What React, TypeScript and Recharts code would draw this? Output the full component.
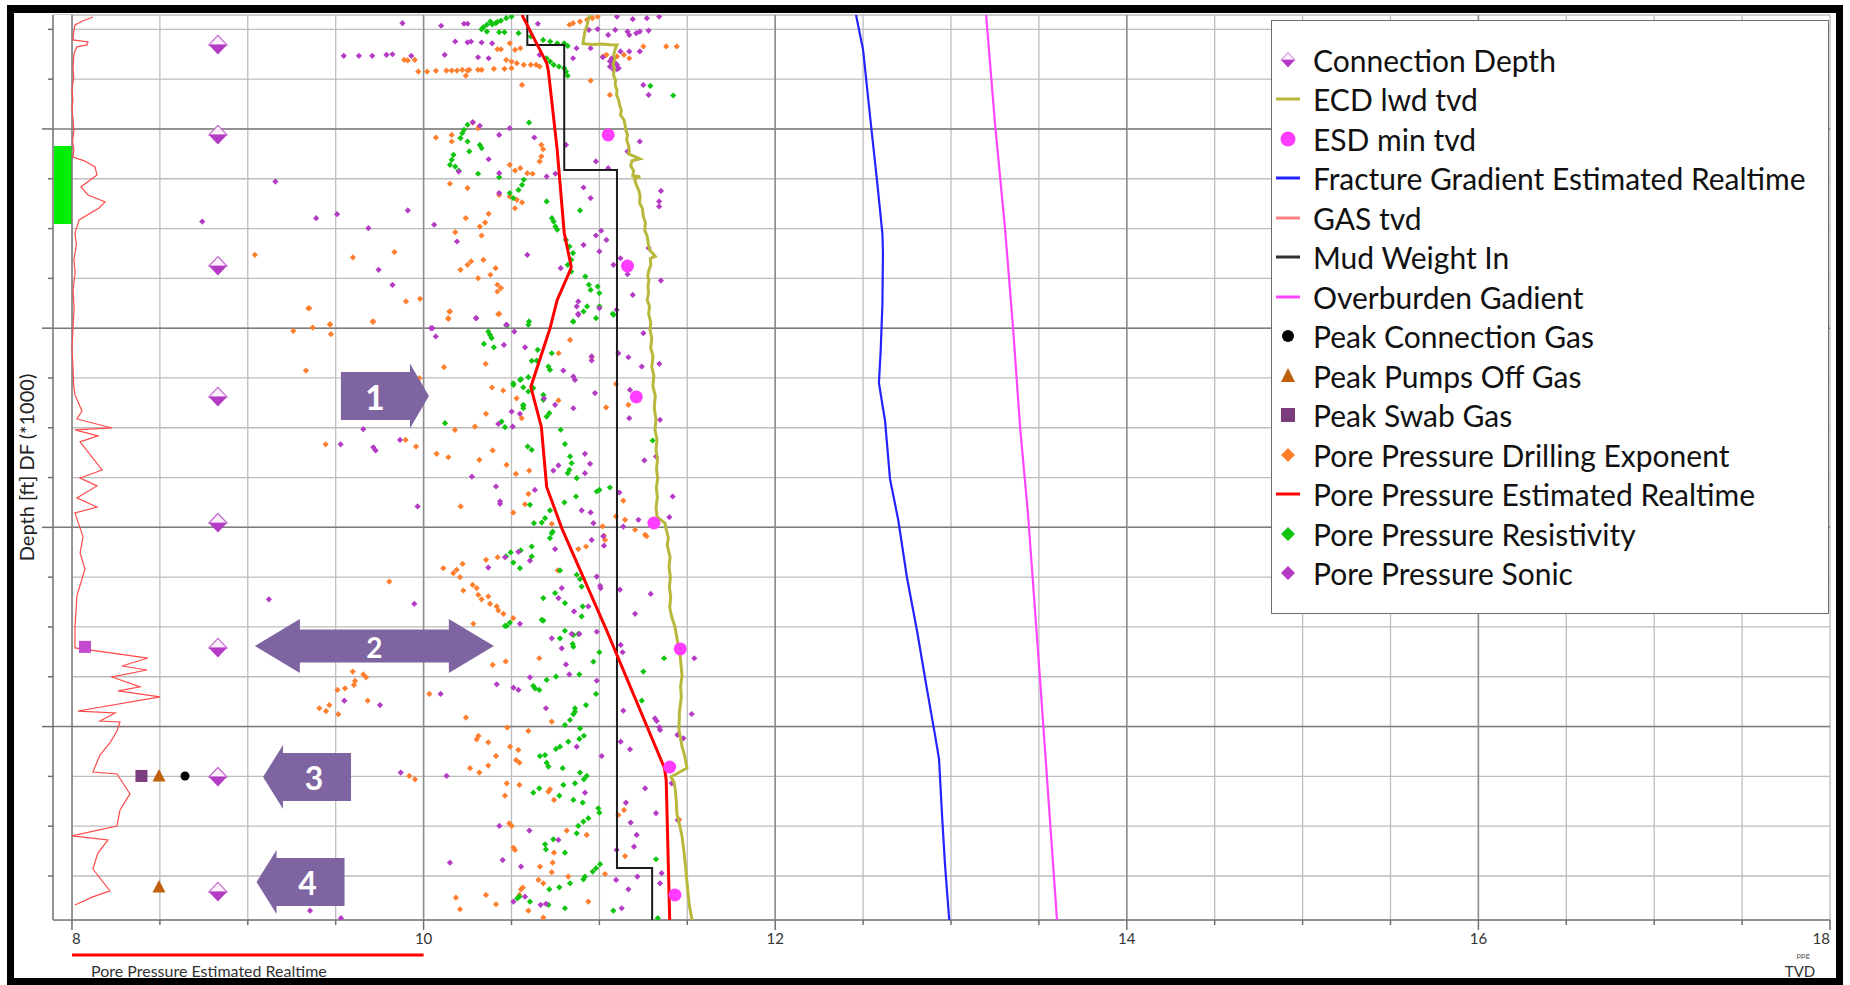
import React from 'react';
import {
  ComposedChart,
  Scatter,
  XAxis,
  YAxis,
  CartesianGrid,
  ReferenceArea,
  ReferenceLine,
  ReferenceDot,
  Legend,
} from 'recharts';

const FONT = 'Lato, "Open Sans", sans-serif';

// axes
const X_MIN = 7.892;
const X_MAX = 18;
const DEPTH_MIN = 9428;
const DEPTH_MAX = 13971;
const X_TICKS = [8, 8.5, 9, 9.5, 10, 10.5, 11, 11.5, 12, 12.5, 13, 13.5, 14, 14.5, 15, 15.5, 16, 16.5, 17, 17.5, 18];
const X_LABELS = [8, 10, 12, 14, 16, 18];
const DEPTH_TICKS = [9500, 9750, 10000, 10250, 10500, 10750, 11000, 11250, 11500, 11750, 12000, 12250, 12500, 12750, 13000, 13250, 13500, 13750];
const DEPTH_MAJORS = [10000, 11000, 12000, 13000];
const X_MAJORS = [10, 12, 14, 16];
const GREEN_ZONE = [10085, 10477];

// curves: [ppg, depth]
const PP_EST = [
  [10.56, 9428], [10.7, 9669], [10.71, 9710], [10.76, 10105], [10.8, 10522], [10.84, 10693], [10.83, 10718],
  [10.76, 10858], [10.72, 10999], [10.61, 11295], [10.67, 11496], [10.7, 11797], [10.79, 12013], [11.04, 12515],
  [11.37, 13208], [11.38, 13268], [11.4, 13971],
];
const MUD_WEIGHT = [
  [10.59, 9428], [10.59, 9578], [10.8, 9578], [10.8, 10206], [11.1, 10206], [11.1, 13710], [11.3, 13710], [11.3, 13971],
];
const ECD = [
  [10.947, 9428], [10.935, 9455], [10.93, 9480], [10.918, 9510], [10.912, 9540], [10.907, 9572], [10.96, 9576],
  [11.01, 9574], [11.06, 9577], [11.1, 9578], [11.09, 9600], [11.082, 9625], [11.088, 9650], [11.078, 9675],
  [11.085, 9700], [11.08, 9729], [11.092, 9755], [11.09, 9780], [11.1, 9804], [11.098, 9830], [11.11, 9855],
  [11.115, 9880], [11.125, 9905], [11.12, 9930], [11.14, 9955], [11.146, 9980], [11.15, 10005], [11.16, 10030],
  [11.155, 10055], [11.165, 10080], [11.17, 10105], [11.166, 10125], [11.23, 10150], [11.185, 10160],
  [11.178, 10185], [11.195, 10210], [11.19, 10235], [11.232, 10240], [11.2, 10250], [11.21, 10281],
  [11.225, 10310], [11.232, 10340], [11.228, 10370], [11.245, 10400], [11.25, 10440], [11.262, 10470],
  [11.258, 10507], [11.272, 10540], [11.278, 10575], [11.285, 10607], [11.318, 10640], [11.29, 10650],
  [11.292, 10683], [11.28, 10715], [11.275, 10740], [11.282, 10758], [11.276, 10790], [11.28, 10820],
  [11.272, 10859], [11.285, 10890], [11.28, 10930], [11.292, 10970], [11.288, 11009], [11.298, 11050],
  [11.292, 11100], [11.305, 11140], [11.298, 11195], [11.31, 11240], [11.304, 11290], [11.318, 11340],
  [11.312, 11400], [11.322, 11461], [11.316, 11510], [11.328, 11560], [11.322, 11610], [11.33, 11660],
  [11.325, 11710], [11.332, 11752], [11.324, 11800], [11.33, 11850], [11.322, 11900], [11.328, 11948],
  [11.373, 11978], [11.38, 12010], [11.392, 12050], [11.386, 12090], [11.402, 12149], [11.396, 12200],
  [11.404, 12250], [11.398, 12300], [11.406, 12350], [11.4, 12400], [11.41, 12445], [11.43, 12500],
  [11.447, 12585], [11.46, 12650], [11.47, 12741], [11.462, 12800], [11.466, 12850], [11.455, 12930],
  [11.453, 13017], [11.462, 13060], [11.47, 13100], [11.486, 13150], [11.498, 13208], [11.407, 13253],
  [11.425, 13280], [11.432, 13320], [11.438, 13380], [11.441, 13439], [11.455, 13490], [11.47, 13550],
  [11.482, 13634], [11.49, 13700], [11.496, 13760], [11.504, 13835], [11.512, 13900], [11.527, 13971],
];
const FRAC_GRAD = [
  [12.46, 9428], [12.5, 9603], [12.54, 9940], [12.58, 10266], [12.61, 10527], [12.613, 10617], [12.61, 10879],
  [12.6, 11114], [12.59, 11275], [12.625, 11466], [12.653, 11757], [12.7, 11963], [12.75, 12254], [12.807, 12520],
  [12.863, 12811], [12.91, 13047], [12.932, 13163], [12.95, 13459], [12.966, 13695], [12.99, 13971],
];
const OVERBURDEN = [
  [13.2, 9428], [13.25, 9970], [13.307, 10497], [13.353, 10999], [13.393, 11496], [13.438, 11933], [13.506, 12756],
  [13.603, 13971],
];
// gas: [gas units, depth]
const GAS = [
  [1.19, 9438], [0.6, 9458], [0.17, 9478], [0.1, 9510], [0.06, 9553], [0.91, 9563], [0.85, 9578], [0.28, 9588],
  [0.12, 9620], [0.06, 9689], [0.1, 9740], [0.0, 9800], [0.05, 9854], [0.0, 9900], [0.06, 9955], [0.11, 10010],
  [0.03, 10060], [0.11, 10105], [0.06, 10141], [0.7, 10160], [1.31, 10191], [1.42, 10231], [0.51, 10291],
  [0.9, 10330], [1.88, 10366], [1.54, 10397], [0.4, 10457], [0.17, 10522], [0.25, 10580], [0.11, 10658],
  [0.18, 10720], [0.06, 10808], [0.12, 10900], [0.06, 10999], [0.0, 11100], [0.06, 11200], [0.1, 11290],
  [0.17, 11335], [0.57, 11416], [0.28, 11456], [2.28, 11501], [0.17, 11511], [1.48, 11541], [0.46, 11571],
  [1.71, 11712], [0.46, 11752], [1.42, 11792], [0.28, 11852], [1.42, 11898], [0.17, 11928], [0.63, 12048],
  [0.46, 12128], [0.74, 12209], [0.28, 12344], [0.17, 12500], [0.17, 12605], [4.32, 12656], [2.84, 12696],
  [4.27, 12716], [2.28, 12751], [3.87, 12801], [2.62, 12821], [5.01, 12851], [0.34, 12922], [2.45, 12932],
  [1.59, 12972], [2.73, 12977], [2.56, 13022], [2.16, 13082], [1.59, 13143], [1.19, 13228], [2.56, 13238],
  [3.3, 13338], [2.73, 13419], [2.56, 13499], [0.0, 13549], [2.05, 13569], [1.48, 13634], [1.19, 13715],
  [2.16, 13825], [1.19, 13855], [0.17, 13896],
];

// point series: [ppg, depth]
const PP_DXC = [
  [9.04, 10632], [9.598, 10645], [9.834, 10618], [9.344, 10900], [9.468, 10980], [9.71, 10967],
  [9.89, 9653], [9.91, 9656], [9.95, 9653], [9.97, 9712], [10.02, 9712], [10.07, 9708], [10.13, 9707], [10.16, 9707],
  [10.19, 9707], [10.22, 9703], [10.25, 9707], [10.26, 9703], [10.31, 9703], [10.33, 9703], [10.4, 9698], [10.46, 9698],
  [10.5, 9695], [10.24, 9733], [10.42, 9600], [10.44, 9600], [10.47, 9653], [10.5, 9662], [10.52, 9603], [10.55, 9595],
  [10.53, 9670], [10.57, 9678], [10.61, 9678], [10.64, 9678], [10.66, 9687], [10.49, 9570], [10.85, 9469], [10.89, 9461],
  [10.93, 9452], [10.96, 9444], [10.99, 9436], [10.83, 9477], [11.02, 9636], [11.04, 9628], [11.1, 9636], [11.14, 9628],
  [11.17, 9645], [11.25, 9586], [11.38, 9586], [11.44, 9586], [10.56, 9779], [10.95, 9757], [11.06, 9829],
  [10.07, 10043], [10.16, 10030], [10.16, 10063], [10.28, 9968], [10.31, 9996], [10.15, 10275], [10.25, 10297],
  [10.49, 10180], [10.52, 10209], [10.55, 10197], [10.59, 10222], [10.62, 10225], [10.67, 10080], [10.68, 10102],
  [10.67, 10138], [10.66, 10163], [10.43, 10331], [10.49, 10339], [10.53, 10356], [10.56, 10369], [10.52, 10398],
  [10.37, 10426], [10.35, 10470], [10.32, 10490], [10.24, 10448], [10.18, 10518], [10.33, 10535], [10.27, 10665],
  [10.34, 10657], [10.25, 10682], [10.21, 10707], [10.38, 10732], [10.31, 10749], [10.41, 10699], [10.42, 10782],
  [10.44, 10799], [10.42, 10816], [9.9, 10866], [9.98, 10853], [10.15, 10916], [10.14, 10950], [10.43, 10928],
  [9.331, 11213], [10.116, 11196], [10.353, 11179], [9.443, 11583], [9.898, 11561], [9.957, 11594], [10.074, 11631],
  [10.141, 11648], [10.178, 11511], [10.292, 11494], [10.317, 11661], [10.393, 11614], [10.389, 11298], [10.453, 11313],
  [10.529, 11352], [10.355, 11430], [10.558, 11452], [10.472, 11686], [10.525, 11732], [10.601, 11715], [10.211, 11895],
  [10.51, 11926], [10.596, 11832], [10.577, 11884], [9.805, 12272], [10.112, 12205], [10.169, 12230], [10.188, 12213],
  [10.207, 12250], [10.222, 12183], [10.226, 12317], [10.279, 12289], [10.302, 12305], [10.311, 12339], [10.33, 12361],
  [10.368, 12347], [10.378, 12384], [10.416, 12397], [10.425, 12417], [10.454, 12434], [10.51, 12456], [10.283, 12484],
  [10.355, 12163], [10.421, 12150], [10.393, 12690], [10.467, 12673], [9.976, 11251],
  [9.35, 10900], [9.259, 11014], [9.369, 10997], [9.468, 10983], [9.473, 11030], [9.714, 10967], [10.147, 10917],
  [10.141, 10953], [10.425, 10930], [10.768, 11126], [10.956, 11146], [11.038, 11398], [10.767, 11363], [10.833, 11059],
  [11.165, 11385], [11.095, 11280], [10.729, 11982], [10.88, 12109], [10.924, 12096], [11.026, 12042], [11.032, 12063],
  [11.203, 12012], [11.26, 12037], [11.146, 11962], [10.763, 12216], [11.136, 11866], [11.094, 11945], [11.268, 12044],
  [11.018, 11995], [11.454, 13467],
  [10.658, 12657], [9.597, 12724], [9.657, 12738], [9.673, 12753], [9.61, 12771], [9.604, 12791], [9.553, 12808],
  [9.51, 12816], [9.464, 12892], [9.407, 12908], [9.445, 12922], [9.515, 12938], [9.682, 12870], [10.033, 12836],
  [10.241, 12955], [10.476, 13005], [10.729, 12975], [10.596, 13022], [10.312, 13047], [10.302, 13064], [10.368, 13079],
  [10.412, 13148], [10.492, 13101], [10.539, 13117], [10.526, 13168], [10.545, 13181], [10.264, 13209], [10.317, 13231],
  [10.368, 13196], [9.919, 13248], [9.951, 13265], [10.473, 13285], [10.545, 13293], [10.463, 13347], [10.719, 13315],
  [10.71, 13327], [10.742, 13368], [10.814, 13522], [10.928, 13544], [10.488, 13486], [10.501, 13499], [10.511, 13608],
  [10.52, 13619], [10.662, 13703], [10.734, 13683], [10.742, 13633], [10.823, 13753], [10.729, 13731], [10.653, 13770],
  [10.681, 13787], [10.564, 13808], [10.554, 13817], [10.545, 13845], [10.355, 13845], [10.412, 13892], [10.184, 13859],
  [10.207, 13917], [10.937, 13879], [10.596, 13924], [10.681, 13959], [11.032, 13740], [11.146, 13650], [11.108, 13444],
  [11.14, 13419],
];
const PP_RES = [
  [10.33, 9499], [10.36, 9477], [10.38, 9461], [10.41, 9469], [10.44, 9456], [10.47, 9444], [10.5, 9436], [10.36, 9511],
  [10.43, 9514], [10.46, 9514], [10.54, 9519], [10.61, 9536], [10.68, 9553], [10.72, 9561], [10.76, 9570], [10.8, 9570],
  [10.82, 9583], [10.7, 9645], [10.72, 9662], [10.74, 9678], [10.77, 9687], [10.8, 9695], [10.81, 9712], [10.82, 9733],
  [11.29, 9784], [11.42, 9832], [10.6, 9968], [10.34, 9490], [10.39, 9475], [10.42, 9463],
  [10.25, 9979], [10.23, 10004], [10.22, 10021], [10.21, 10046], [10.25, 10063], [10.32, 10080], [10.33, 10096],
  [10.26, 10113], [10.17, 10130], [10.16, 10155], [10.15, 10180], [10.18, 10189], [10.2, 10209], [10.31, 10225],
  [10.43, 10242], [10.49, 10322], [10.51, 10347], [10.54, 10306], [10.56, 10281], [10.57, 10255], [10.7, 10364],
  [10.73, 10448], [10.74, 10465], [10.75, 10490], [10.76, 10506], [10.81, 10557], [10.83, 10590], [10.85, 10623],
  [10.84, 10657], [10.82, 10682], [10.84, 10716], [10.89, 10409], [10.92, 10741], [10.94, 10782], [10.95, 10808],
  [10.99, 10791], [11.0, 10824], [10.93, 10891], [10.91, 10916], [11.08, 10933], [10.6, 10966], [10.85, 10966],
  [10.343, 11079], [10.4, 11096], [10.643, 11163], [10.51, 11277], [10.554, 11256], [10.596, 11246], [10.567, 11297],
  [10.596, 11318], [10.567, 11385], [10.567, 11402], [10.122, 11477], [10.444, 11469], [10.463, 11497], [10.592, 11594],
  [10.615, 11611], [10.605, 11887], [10.628, 11979], [10.469, 12146], [10.495, 12126], [10.552, 12116], [10.615, 12096],
  [10.51, 12177], [10.548, 12205], [10.472, 12495], [10.491, 12478],
  [10.852, 10967], [10.981, 10950], [11.076, 10928], [11.0, 10891], [10.729, 11126], [10.71, 11193], [10.719, 11209],
  [10.681, 11335], [10.681, 11360], [10.7, 11444], [10.715, 11427], [10.78, 11510], [10.804, 11582], [10.833, 11644],
  [10.842, 11678], [10.829, 11711], [10.82, 11728], [10.871, 11753], [10.985, 11820], [11.0, 11812], [11.06, 11800],
  [10.867, 11845], [10.801, 11875], [10.719, 11915], [10.691, 11954], [10.672, 11976], [10.729, 12029], [10.719, 12054],
  [10.734, 12021], [10.776, 12216], [10.871, 12238], [10.89, 12260], [10.899, 12297], [10.905, 12397], [10.899, 12447],
  [10.804, 12380], [10.748, 12330], [10.681, 12355], [10.672, 12464], [11.303, 11564], [10.368, 11017], [10.378, 11034],
  [10.387, 11050], [10.596, 10983], [10.473, 10988], [10.615, 11164], [10.649, 11109], [10.549, 11260], [10.511, 11285],
  [10.567, 11390], [10.624, 11301], [10.615, 12146],
  [10.463, 12495], [10.681, 12468], [10.804, 12519], [10.852, 12540], [10.88, 12535], [10.852, 12599], [10.848, 12585],
  [10.776, 12557], [11.0, 12627], [10.966, 12674], [11.25, 12724], [11.368, 12657], [10.886, 12738], [10.753, 12749],
  [10.7, 12766], [10.624, 12796], [10.634, 12808], [10.658, 12816], [10.981, 12836], [10.924, 12892], [10.861, 12908],
  [10.861, 12925], [10.852, 12938], [10.833, 12967], [10.804, 12992], [10.89, 13009], [10.912, 13046], [10.886, 13062],
  [10.823, 13076], [10.776, 13101], [10.753, 13112], [10.691, 13143], [10.662, 13148], [10.7, 13181], [10.71, 13201],
  [10.791, 13209], [10.89, 13231], [10.928, 13248], [10.912, 13265], [10.861, 13285], [10.795, 13293], [10.658, 13310],
  [10.624, 13332], [10.772, 13347], [10.852, 13368], [10.905, 13382], [10.994, 13410], [11.0, 13432], [10.937, 13460],
  [10.909, 13477], [10.88, 13499], [10.871, 13536], [10.738, 13566], [10.691, 13591], [10.696, 13616], [10.804, 13633],
  [11.004, 13691], [10.981, 13711], [10.962, 13728], [10.918, 13753], [10.909, 13767], [10.833, 13787], [10.772, 13807],
  [10.715, 13817], [10.605, 13879], [10.545, 13854], [10.533, 13862], [10.71, 13895], [10.804, 13912], [11.079, 13924],
  [11.322, 13666], [11.332, 13962], [11.241, 12870],
];
const PP_SONIC = [
  [9.546, 9633], [9.632, 9633], [9.708, 9633], [9.789, 9628], [9.823, 9625], [9.157, 10264], [8.741, 10465],
  [9.389, 10448], [9.508, 10428], [9.686, 10498], [9.744, 10707], [9.823, 10783],
  [9.88, 9469], [10.1, 9482], [10.23, 9472], [10.25, 9472], [10.65, 9472], [11.1, 9436], [11.19, 9449], [11.27, 9444],
  [11.34, 9436], [10.18, 9561], [10.25, 9565], [10.27, 9561], [10.33, 9566], [10.39, 9570], [10.94, 9503], [10.99, 9499],
  [11.05, 9528], [11.09, 9503], [11.16, 9511], [11.17, 9528], [11.21, 9519], [11.23, 9511], [11.28, 9506], [9.93, 9633],
  [10.12, 9628], [10.31, 9640], [10.37, 9645], [10.66, 9628], [10.85, 9645], [10.87, 9595], [10.95, 9595], [11.02, 9640],
  [11.12, 9611], [11.17, 9611], [11.23, 9611], [11.28, 9829], [11.25, 9779], [11.08, 9662], [11.1, 9678], [11.08, 9703],
  [11.07, 9645], [11.11, 9695], [11.06, 9687], [11.06, 9660], [11.09, 9670], [11.07, 9680], [11.1, 9700],
  [10.28, 9966], [10.32, 9984], [10.49, 9996], [10.43, 10030], [10.63, 10043], [10.81, 10080], [10.37, 10152],
  [10.2, 10214], [10.43, 10222], [10.7, 10239], [10.75, 10225], [10.91, 10294], [10.95, 10347], [11.35, 10311],
  [11.34, 10364], [11.34, 10389], [10.43, 10322], [9.91, 10409], [10.06, 10481], [10.19, 10565], [10.59, 10632],
  [10.78, 10699], [11.01, 10511], [10.98, 10535], [11.04, 10557], [10.91, 10582], [11.0, 10615], [11.08, 10682],
  [11.12, 10649], [11.16, 10729], [11.28, 10598], [11.23, 10063], [11.16, 10113], [10.98, 10163], [11.05, 10197],
  [11.35, 10761], [11.19, 10833], [10.88, 10866], [11.0, 10900], [10.88, 10933], [10.3, 10950], [10.47, 10983],
  [10.05, 11000],
  [9.657, 11507], [9.528, 11583], [9.714, 11598], [9.727, 11614], [9.866, 11561], [9.966, 11895], [10.275, 11745],
  [10.412, 11795], [10.435, 11870], [10.435, 11882], [10.507, 11494], [10.425, 11481], [10.501, 11419], [10.548, 11430],
  [9.12, 12361], [9.947, 12384], [10.368, 12202], [10.463, 12150], [10.539, 12123], [10.605, 12167], [10.548, 12484],
  [10.457, 11084], [10.577, 11096], [10.633, 11812],
  [10.042, 11000], [10.069, 11042], [10.298, 10950], [10.473, 10983], [10.516, 11017], [10.88, 10928], [10.871, 10891],
  [10.956, 11162], [10.956, 11142], [10.975, 11326], [10.861, 11260], [10.852, 11243], [10.852, 11402], [10.748, 11385],
  [10.685, 11352], [10.795, 11213], [11.174, 11310], [11.17, 11452], [11.165, 11146], [11.108, 11126], [11.241, 11193],
  [11.341, 11179], [11.25, 11025], [10.918, 11631], [10.947, 11681], [10.767, 11689], [10.738, 11715], [10.918, 11728],
  [11.322, 11644], [11.256, 11664], [11.345, 11460], [10.899, 11915], [10.95, 11925], [10.966, 11979], [11.136, 11996],
  [11.222, 11962], [11.417, 11845], [11.398, 11949], [11.114, 11825], [10.748, 12109], [10.956, 12063], [10.985, 12247],
  [11.004, 12293], [11.007, 12305], [10.937, 12397], [10.786, 12305], [10.767, 12355], [10.856, 12422], [11.203, 12434],
  [11.292, 12334], [11.117, 12313], [11.098, 10908], [11.022, 12044], [11.026, 12092],
  [10.729, 12557], [10.786, 12607], [10.842, 12535], [10.886, 12535], [10.985, 12524], [11.121, 12590], [11.132, 12627],
  [10.81, 12688], [10.829, 12738], [10.605, 12753], [10.416, 12788], [10.511, 12805], [10.539, 12816], [10.985, 12770],
  [11.136, 12920], [10.696, 12908], [11.316, 12959], [11.326, 12972], [11.341, 13004], [11.345, 13017], [11.444, 13042],
  [11.478, 13059], [11.525, 12937], [11.54, 12657], [10.871, 13101], [11.121, 13076], [11.174, 13114], [11.013, 13148],
  [11.26, 13310], [11.411, 13285], [11.151, 13382], [11.322, 13435], [11.445, 13469], [11.178, 13482], [11.212, 13544],
  [11.197, 13603], [11.098, 13619], [11.095, 13770], [11.165, 13817], [11.216, 13753], [11.354, 13736], [11.345, 13787],
  [10.918, 13332], [10.767, 13569], [10.602, 13522], [10.431, 13499], [10.45, 13670], [10.554, 13703], [10.15, 13683],
  [9.549, 12870], [9.752, 12892], [10.097, 12836], [9.87, 13231], [10.131, 13248], [10.696, 13890], [10.666, 13895],
  [10.577, 13854], [10.511, 13879], [11.127, 13912], [9.53, 13962], [9.354, 13924],
];

const CONNECTION_DEPTH = [[8.83, 9578], [8.83, 10030], [8.83, 10688], [8.83, 11345], [8.83, 11978], [8.83, 12605], [8.83, 13253], [8.83, 13830]];
const ESD_MIN = [[11.05, 10030], [11.16, 10688], [11.21, 11345], [11.31, 11978], [11.46, 12610], [11.4, 13203], [11.43, 13845]];
const PEAK_CONN_GAS = [[8.643, 13248]];
const PEAK_PUMPS_OFF = [[8.495, 13248], [8.495, 13805]];
const PEAK_SWAB = [[8.395, 13248]];
const PEAK_SWAB_EARLY = [[8.074, 12600]];

const ARROWS = [
  { label: '1', x: 9.78, depth: 11340, kind: 'right' },
  { label: '2', x: 9.72, depth: 12595, kind: 'both' },
  { label: '3', x: 9.337, depth: 13253, kind: 'left' },
  { label: '4', x: 9.3, depth: 13780, kind: 'left' },
];

const LEGEND_ORDER = [
  'Connection Depth', 'ECD lwd tvd', 'ESD min tvd', 'Fracture Gradient Estimated Realtime', 'GAS tvd',
  'Mud Weight In', 'Overburden Gadient', 'Peak Connection Gas', 'Peak Pumps Off Gas', 'Peak Swab Gas',
  'Pore Pressure Drilling Exponent', 'Pore Pressure Estimated Realtime', 'Pore Pressure Resistivity',
  'Pore Pressure Sonic',
];

const C = {
  conn: '#b43cc4', ecd: '#b8b83c', esd: '#ff3cff', fg: '#2323ff', gas: '#ff4a4a', mw: '#1c1c1c', ob: '#ff45ff',
  peakConn: '#000000', pumps: '#c0600c', swab: '#7b3d7d', swabLight: '#c44bd0', dxc: '#ff7f2f', ppEst: '#ff0000',
  res: '#10c410', sonic: '#b43cc4', arrow: '#7f64a2',
};

const LEGEND_STYLE: Record<string, { icon: string; color: string }> = {
  'Connection Depth': { icon: 'conn', color: C.conn },
  'ECD lwd tvd': { icon: 'line', color: C.ecd },
  'ESD min tvd': { icon: 'bigCircle', color: C.esd },
  'Fracture Gradient Estimated Realtime': { icon: 'line', color: C.fg },
  'GAS tvd': { icon: 'line', color: '#ff8080' },
  'Mud Weight In': { icon: 'line', color: '#333333' },
  'Overburden Gadient': { icon: 'line', color: C.ob },
  'Peak Connection Gas': { icon: 'circle', color: C.peakConn },
  'Peak Pumps Off Gas': { icon: 'triangle', color: C.pumps },
  'Peak Swab Gas': { icon: 'square', color: C.swab },
  'Pore Pressure Drilling Exponent': { icon: 'diamond', color: C.dxc },
  'Pore Pressure Estimated Realtime': { icon: 'line', color: C.ppEst },
  'Pore Pressure Resistivity': { icon: 'diamond', color: C.res },
  'Pore Pressure Sonic': { icon: 'diamond', color: C.sonic },
};

const ARROW_SHAPES: Record<string, { pts: number[][]; tx: number; fs: number }> = {
  right: { pts: [[-44, -24], [25, -24], [25, -32.5], [44, 0], [25, 32.5], [25, 24], [-44, 24]], tx: -10, fs: 34 },
  both: {
    pts: [[-119.5, 0], [-74.5, -27], [-74.5, -16.5], [74.5, -16.5], [74.5, -27], [119.5, 0], [74.5, 27], [74.5, 16.5], [-74.5, 16.5], [-74.5, 27]],
    tx: 0, fs: 28,
  },
  left: { pts: [[-44, 0], [-24, -32], [-24, -24], [44, -24], [44, 24], [-24, 24], [-24, 32]], tx: 7, fs: 32 },
};

const toPts = (rows: number[][]) => rows.map(([x, depth]) => ({ x, depth }));
const toGas = (rows: number[][]) => rows.map(([gas, depth]) => ({ gas, depth }));

const Empty = () => <g />;

const smallDiamond = (color: string, r = 3.1) => (p: any) =>
  <polygon points={`${p.cx},${p.cy - r} ${p.cx + r},${p.cy} ${p.cx},${p.cy + r} ${p.cx - r},${p.cy}`} fill={color} />;

const ConnDiamond = (p: any) => {
  const { cx, cy } = p;
  const w = 9;
  const h = 9.5;
  return (
    <g>
      <polygon points={`${cx - w},${cy} ${cx},${cy - h} ${cx + w},${cy}`} fill="#fbeefb" stroke="#c46ad0" strokeWidth={1.2} />
      <polygon points={`${cx - w},${cy} ${cx + w},${cy} ${cx},${cy + h}`} fill={C.conn} />
    </g>
  );
};

const circleShape = (color: string, r: number) => (p: any) => <circle cx={p.cx} cy={p.cy} r={r} fill={color} />;
const squareShape = (color: string, s: number) => (p: any) => <rect x={p.cx - s / 2} y={p.cy - s / 2} width={s} height={s} fill={color} />;
const triangleShape = (color: string) => (p: any) =>
  <polygon points={`${p.cx},${p.cy - 7} ${p.cx + 6.5},${p.cy + 5.5} ${p.cx - 6.5},${p.cy + 5.5}`} fill={color} />;

const ArrowShape = (kind: string, label: string) => (p: any) => {
  const s = ARROW_SHAPES[kind];
  const pts = s.pts.map(([dx, dy]) => `${p.cx + dx},${p.cy + dy}`).join(' ');
  return (
    <g>
      <polygon points={pts} fill={C.arrow} />
      <text x={p.cx + s.tx} y={p.cy + 1} textAnchor="middle" dominantBaseline="central" fill="#fff" fontSize={s.fs} fontWeight={700} fontFamily={FONT}>
        {label}
      </text>
    </g>
  );
};

const XTick = (p: any) => {
  const v = p.payload.value;
  const lab = X_LABELS.includes(v);
  const anchor = v === X_LABELS[0] ? 'start' : v === X_LABELS[X_LABELS.length - 1] ? 'end' : 'middle';
  return (
    <g>
      <line x1={p.x} x2={p.x} y1={p.y} y2={p.y + (lab ? 10 : 5)} stroke="#6f6f6f" strokeWidth={1.5} />
      {lab && (
        <text x={p.x} y={p.y + 24} textAnchor={anchor} fontSize={15} fill="#333" fontFamily={FONT}>{v}</text>
      )}
    </g>
  );
};

const YTick = (p: any) => {
  const major = p.payload.value % 1000 === 0;
  return <line x1={p.x - (major ? 11 : 5)} x2={p.x} y1={p.y} y2={p.y} stroke="#6f6f6f" strokeWidth={1.5} />;
};

const DepthLabel = (p: any) => {
  const vb = p.viewBox || { x: 0, y: 15, width: 53, height: 905 };
  const cx = vb.x + 26;
  const cy = vb.y + vb.height / 2;
  return (
    <text x={cx} y={cy} transform={`rotate(-90 ${cx} ${cy})`} textAnchor="middle" dominantBaseline="central" fontSize={20} fill="#222" fontFamily={FONT}>
      Depth [ft] DF (*1000)
    </text>
  );
};

const TrackHeader = (p: any) => {
  const vb = p.viewBox || { x: 53, y: 920, width: 1777, height: 30 };
  const px = (v: number) => vb.x + ((v - X_MIN) / (X_MAX - X_MIN)) * vb.width;
  const y0 = vb.y;
  return (
    <g fontFamily={FONT}>
      <line x1={px(8)} x2={px(10)} y1={y0 + 35} y2={y0 + 35} stroke="#ff0000" strokeWidth={3} />
      <text x={px(8) + 19} y={y0 + 57} fontSize={16} fill="#333">Pore Pressure Estimated Realtime</text>
      <text x={px(18) - 27} y={y0 + 38} fontSize={8} fill="#555" textAnchor="middle">ppg</text>
      <text x={px(18) - 30} y={y0 + 57} fontSize={15} fill="#333" textAnchor="middle">TVD</text>
    </g>
  );
};

const legendIcon = (name: string) => {
  const st = LEGEND_STYLE[name];
  if (!st) return null;
  const c = st.color;
  switch (st.icon) {
    case 'conn':
      return (
        <g>
          <polygon points="6,12 13,4.5 20,12" fill="#fbeefb" stroke="#c46ad0" strokeWidth={1} />
          <polygon points="6,12 20,12 13,19.5" fill={c} />
        </g>
      );
    case 'line':
      return <line x1={1} x2={25} y1={12} y2={12} stroke={c} strokeWidth={3} />;
    case 'bigCircle':
      return <circle cx={13} cy={12} r={7.5} fill={c} />;
    case 'circle':
      return <circle cx={13} cy={12} r={6} fill={c} />;
    case 'triangle':
      return <polygon points="13,4 20,18 6,18" fill={c} />;
    case 'square':
      return <rect x={6} y={5} width={14} height={14} fill={c} />;
    default:
      return <polygon points="13,5 20,12 13,19 6,12" fill={c} />;
  }
};

const LegendBox = (props: any) => {
  const payload = props.payload || [];
  const names = payload.length ? LEGEND_ORDER.filter((n) => payload.some((e: any) => e.value === n)) : LEGEND_ORDER;
  return (
    <div
      style={{
        width: 558, height: 594, boxSizing: 'border-box', border: '1.5px solid #6e6e6e', background: '#fff',
        paddingTop: 19, fontFamily: FONT,
      }}
    >
      {names.map((n) => (
        <div key={n} style={{ height: 39.5, display: 'flex', alignItems: 'center' }}>
          <svg width={26} height={24} style={{ marginLeft: 3, flex: 'none' }}>{legendIcon(n)}</svg>
          <span style={{ fontSize: 30, color: '#111', marginLeft: 12, lineHeight: 1, whiteSpace: 'nowrap' }}>{n}</span>
        </div>
      ))}
    </div>
  );
};

export default function App() {
  return (
    <div style={{ position: 'relative', width: 1850, height: 985, background: '#fff', overflow: 'hidden' }}>
      <style>{'body{margin:0}'}</style>
      <ComposedChart width={1850} height={985} margin={{ top: 15, right: 20, bottom: 35, left: 0 }}>
        <CartesianGrid stroke="#bdbdbd" strokeWidth={1.3} />
        <ReferenceArea x1={7.897} x2={8} y1={DEPTH_MIN} y2={DEPTH_MAX} fill="#ffffff" fillOpacity={1} stroke="none" />
        <ReferenceArea x1={7.897} x2={8} y1={GREEN_ZONE[0]} y2={GREEN_ZONE[1]} fill="#00ee00" fillOpacity={1} stroke="none" />
        {DEPTH_MAJORS.map((d) => (
          <ReferenceLine key={`d${d}`} y={d} stroke="#7c7c7c" strokeWidth={1.5} />
        ))}
        {X_MAJORS.map((v) => (
          <ReferenceLine key={`x${v}`} x={v} stroke="#8c8c8c" strokeWidth={1.5} />
        ))}
        <ReferenceLine x={8} stroke="#7c7c7c" strokeWidth={1.5} />
        <XAxis
          type="number" dataKey="x" domain={[X_MIN, X_MAX]} ticks={X_TICKS} interval={0} tick={XTick}
          tickSize={0} tickMargin={0} tickLine={false} height={30} allowDataOverflow
          axisLine={{ stroke: '#7d7d7d', strokeWidth: 1.5 }} label={TrackHeader}
        />
        <XAxis xAxisId="gas" type="number" dataKey="gas" domain={[-1.08, 100]} hide allowDataOverflow />
        <YAxis
          type="number" dataKey="depth" domain={[DEPTH_MIN, DEPTH_MAX]} reversed ticks={DEPTH_TICKS} interval={0}
          tick={YTick} tickSize={0} tickMargin={0} tickLine={false} width={53} allowDataOverflow
          axisLine={{ stroke: '#7d7d7d', strokeWidth: 1.5 }} label={DepthLabel}
        />
        <Legend
          content={LegendBox} layout="horizontal" verticalAlign="middle" align="center"
          wrapperStyle={{ left: 1271, top: 20, width: 558, height: 594 }}
        />

        <Scatter name="Pore Pressure Drilling Exponent" data={toPts(PP_DXC)} fill={C.dxc} shape={smallDiamond(C.dxc)} isAnimationActive={false} />
        <Scatter name="Pore Pressure Resistivity" data={toPts(PP_RES)} fill={C.res} shape={smallDiamond(C.res)} isAnimationActive={false} />
        <Scatter name="Pore Pressure Sonic" data={toPts(PP_SONIC)} fill={C.sonic} shape={smallDiamond(C.sonic)} isAnimationActive={false} />

        <Scatter name="GAS tvd" xAxisId="gas" data={toGas(GAS)} fill={C.gas} line={{ stroke: C.gas, strokeWidth: 1.2 }} lineType="joint" shape={Empty} legendType="line" isAnimationActive={false} />
        <Scatter name="Overburden Gadient" data={toPts(OVERBURDEN)} fill={C.ob} line={{ stroke: C.ob, strokeWidth: 2.2 }} lineType="joint" shape={Empty} legendType="line" isAnimationActive={false} />
        <Scatter name="Fracture Gradient Estimated Realtime" data={toPts(FRAC_GRAD)} fill={C.fg} line={{ stroke: C.fg, strokeWidth: 2.2 }} lineType="joint" shape={Empty} legendType="line" isAnimationActive={false} />
        <Scatter name="Mud Weight In" data={toPts(MUD_WEIGHT)} fill={C.mw} line={{ stroke: C.mw, strokeWidth: 2 }} lineType="joint" shape={Empty} legendType="line" isAnimationActive={false} />
        <Scatter name="ECD lwd tvd" data={toPts(ECD)} fill={C.ecd} line={{ stroke: C.ecd, strokeWidth: 3 }} lineType="joint" shape={Empty} legendType="line" isAnimationActive={false} />
        <Scatter name="Pore Pressure Estimated Realtime" data={toPts(PP_EST)} fill={C.ppEst} line={{ stroke: C.ppEst, strokeWidth: 3 }} lineType="joint" shape={Empty} legendType="line" isAnimationActive={false} />

        <Scatter name="ESD min tvd" data={toPts(ESD_MIN)} fill={C.esd} shape={circleShape(C.esd, 6.5)} isAnimationActive={false} />
        <Scatter name="Connection Depth" data={toPts(CONNECTION_DEPTH)} fill={C.conn} shape={ConnDiamond} isAnimationActive={false} />
        <Scatter name="Peak Swab Gas" data={toPts(PEAK_SWAB)} fill={C.swab} shape={squareShape(C.swab, 12)} isAnimationActive={false} />
        <Scatter name="Peak Swab Gas" data={toPts(PEAK_SWAB_EARLY)} fill={C.swabLight} shape={squareShape(C.swabLight, 12)} legendType="none" isAnimationActive={false} />
        <Scatter name="Peak Pumps Off Gas" data={toPts(PEAK_PUMPS_OFF)} fill={C.pumps} shape={triangleShape(C.pumps)} isAnimationActive={false} />
        <Scatter name="Peak Connection Gas" data={toPts(PEAK_CONN_GAS)} fill={C.peakConn} shape={circleShape(C.peakConn, 4.5)} isAnimationActive={false} />

        {ARROWS.map((a) => (
          <ReferenceDot key={a.label} x={a.x} y={a.depth} r={1} ifOverflow="visible" shape={ArrowShape(a.kind, a.label)} />
        ))}
      </ComposedChart>
      <div
        style={{
          position: 'absolute', left: 7, top: 5, width: 1836, height: 980, border: '7px solid #000',
          borderTopWidth: 8, boxSizing: 'border-box', pointerEvents: 'none',
        }}
      />
    </div>
  );
}
